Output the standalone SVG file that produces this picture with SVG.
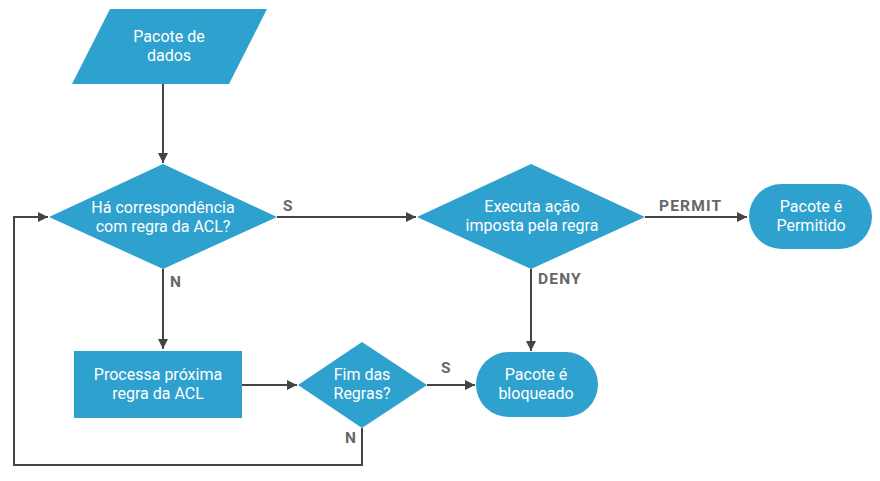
<svg xmlns="http://www.w3.org/2000/svg" width="880" height="481" viewBox="0 0 880 481">
<defs>
<style>
.n{fill:#2fa1ce}
.t{font-family:Roboto,"Liberation Sans",sans-serif;font-size:16px;fill:#ffffff;text-anchor:middle}
.l{font-family:Roboto,"Liberation Sans",sans-serif;font-size:15.5px;font-weight:bold;letter-spacing:1.2px;fill:#666666}
.c{stroke:#444444;stroke-width:2;fill:none}
</style>
<marker id="ah" markerUnits="userSpaceOnUse" markerWidth="10" markerHeight="10" refX="10" refY="5" orient="auto">
<path d="M0,0 L10,5 L0,10 z" fill="#444444"/>
</marker>
</defs>
<rect width="880" height="481" fill="#ffffff"/>
<g id="connectors">
<path class="c" d="M163,84 V163" marker-end="url(#ah)"/>
<path class="c" d="M277,217 H416" marker-end="url(#ah)"/>
<path class="c" d="M645,217 H747" marker-end="url(#ah)"/>
<path class="c" d="M531,269 V351" marker-end="url(#ah)"/>
<path class="c" d="M163,269 V349" marker-end="url(#ah)"/>
<path class="c" d="M242,385 H297" marker-end="url(#ah)"/>
<path class="c" d="M427,385 H475" marker-end="url(#ah)"/>
<path class="c" d="M362,428 V465 H14 V217 H48" marker-end="url(#ah)"/>
<text class="l" x="283" y="211">S</text>
<text class="l" x="170" y="287">N</text>
<text class="l" x="659" y="211">PERMIT</text>
<text class="l" x="538" y="284">DENY</text>
<text class="l" x="441" y="373">S</text>
<text class="l" x="345" y="443">N</text>
</g>
<g id="pacote-dados">
<polygon class="n" points="110,9 267,9 229,84 72,84"/>
<text class="t" x="169" y="42">Pacote de</text>
<text class="t" x="169" y="61">dados</text>
</g>
<g id="ha-correspondencia">
<polygon class="n" points="163,164 277,217 163,269 49,217"/>
<text class="t" x="163" y="213">Há correspondência</text>
<text class="t" x="163" y="232">com regra da ACL?</text>
</g>
<g id="executa-acao">
<polygon class="n" points="531,164 645,217 531,269 417,217"/>
<text class="t" x="532" y="212">Executa ação</text>
<text class="t" x="532" y="231">imposta pela regra</text>
</g>
<g id="pacote-permitido">
<rect class="n" x="749" y="184" width="123" height="65" rx="32.5"/>
<text class="t" x="811" y="212">Pacote é</text>
<text class="t" x="811" y="231">Permitido</text>
</g>
<g id="processa-proxima">
<rect class="n" x="74" y="351" width="168" height="67"/>
<text class="t" x="158" y="380">Processa próxima</text>
<text class="t" x="158" y="399">regra da ACL</text>
</g>
<g id="fim-das-regras">
<polygon class="n" points="362,342 427,385 362,428 298,385"/>
<text class="t" x="362" y="380">Fim das</text>
<text class="t" x="362" y="399">Regras?</text>
</g>
<g id="pacote-bloqueado">
<rect class="n" x="476" y="352" width="122" height="65" rx="32.5"/>
<text class="t" x="536" y="380">Pacote é</text>
<text class="t" x="536" y="399">bloqueado</text>
</g>
</svg>
